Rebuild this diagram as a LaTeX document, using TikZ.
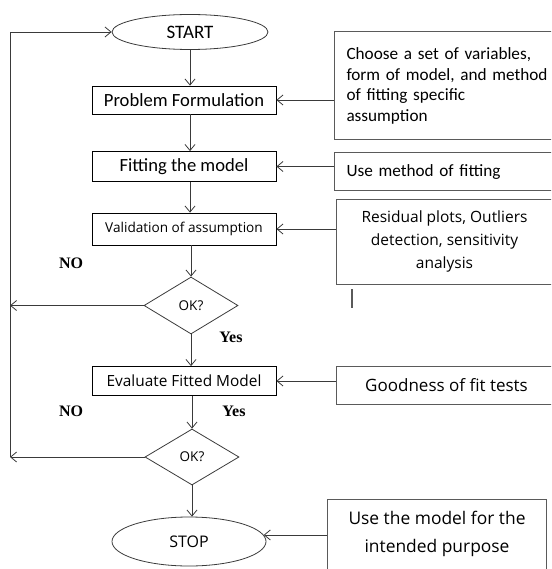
\documentclass[tikz,border=0pt]{standalone}
\usepackage{fontspec}
\usepackage{tikz}
\usetikzlibrary{arrows.meta, positioning, shapes.geometric, calc}
\newfontfamily\calibfont{Carlito}
\newfontfamily\segfont{Open Sans}
\newfontfamily\timesfont{Liberation Serif}
\definecolor{flowline}{HTML}{3A3A3A}
\definecolor{noteline}{HTML}{5A5A5A}

\begin{document}
\begin{tikzpicture}[x=1pt, y=-1pt,
    term/.style={ellipse, draw=flowline, line width=0.8pt, inner sep=0pt},
    stepbox/.style={rectangle, draw=black, line width=0.8pt, inner sep=0pt,
                    minimum width=184, align=center},
    decide/.style={diamond, draw=flowline, line width=0.8pt, inner sep=0pt,
                   minimum width=94, minimum height=57,
                   font=\segfont\fontsize{13.5}{15}\selectfont},
    note/.style={rectangle, draw=noteline, line width=1pt, inner xsep=12pt},
    answer/.style={font=\timesfont\bfseries\fontsize{16}{18}\selectfont},
    flow/.style={-{Straight Barb[length=6pt, width=10pt]}, draw=flowline,
                 line width=0.8pt}
  ]
    \useasboundingbox (0,0) rectangle (551,569);
    \clip (0,0) rectangle (551,569);

    % Main column
    \node[term, minimum width=156, minimum height=35,
          font=\calibfont\fontsize{19}{22}\selectfont] (start) at (190, 32) {START};
    \node[stepbox, minimum height=28,
          font=\calibfont\fontsize{18.6}{22}\selectfont] (prob) at (184, 100)
      {Problem Formulation};
    \node[stepbox, minimum height=30,
          font=\calibfont\fontsize{18.6}{22}\selectfont] (fit) at (184, 166.5)
      {Fitting the model};
    \node[stepbox, minimum height=32,
          font=\segfont\fontsize{13.6}{16}\selectfont] (valid) at (184, 229)
      {Validation of assumption};
    % First check
    \node[decide] (okOne) at (191, 305.5) {OK?};
    \node[stepbox, minimum height=29,
          font=\segfont\fontsize{15.4}{18}\selectfont] (eval) at (184, 381)
      {Evaluate Fitted Model};
    % Second check
    \node[decide, minimum height=56] (okTwo) at (192, 457) {OK?};
    \node[term, minimum width=154, minimum height=49,
          font=\segfont\fontsize{16}{19}\selectfont] (stop) at (189, 541.5) {STOP};

    % Answers
    \node[answer] (noOne)  at (71, 263)  {NO};
    \node[answer] (yesOne) at (231, 337) {Yes};
    \node[answer] (noTwo)  at (71, 411)  {NO};
    \node[answer] (yesTwo) at (234, 411) {Yes};

    % Notes (right)
    \node[note, anchor=west, minimum height=108, text width=214, align=left,
          font=\calibfont\fontsize{17.2}{20.5}\selectfont] (noteChoose) at (334, 86)
      {Choose a set of variables,\\form of model, and method\\of fitting specific\\assumption};
    \node[note, anchor=west, minimum height=38, text width=214, align=left,
          font=\calibfont\fontsize{17.2}{20.5}\selectfont] (noteFit) at (334, 172)
      {Use method of fitting};
    \node[note, anchor=west, minimum width=217, minimum height=85, align=center,
          font=\segfont\fontsize{15.5}{23}\selectfont] (noteResid) at (335.5, 241.5)
      {Residual plots, Outliers\\detection, sensitivity\\analysis};
    \node[note, anchor=west, minimum width=221, minimum height=38,
          font=\segfont\fontsize{17}{20}\selectfont] (noteGood) at (335.5, 385)
      {Goodness of fit tests};
    \node[note, anchor=north west, minimum width=219, inner ysep=12pt,
          text depth=60pt, align=center,
          font=\segfont\fontsize{17.4}{28}\selectfont] (noteUse) at (327, 499)
      {Use the model for the\\intended purpose};

    % Stray mark under the residual note
    \draw[noteline, line width=1.2pt] (352, 289) -- (352, 308);

    % Loop back line (left)
    \coordinate (loopTop) at (10, 32);

    % Main flow
    \draw[flow] (start) -- (start |- prob.north);
    \draw[flow] (prob.south -| start) -- (fit.north -| start);
    \draw[flow] (fit.south -| start) -- (valid.north -| start);
    \draw[flow] (valid.south -| okOne) -- (okOne.north);
    \draw[flow] (okOne.south) -- (okOne |- eval.north);
    \draw[flow] (eval.south -| okTwo) -- (okTwo.north);
    \draw[flow] (okTwo.south) -- (okTwo |- stop.north);

    % NO branches
    \draw[flow] (okOne.west) -- (okOne.west -| loopTop);
    \draw[flow] (okTwo.west) -- (okTwo.west -| loopTop);
    \draw[flow] (okTwo.west -| loopTop) -- (loopTop) -- (start.west);

    % Notes to steps
    \draw[flow] (noteChoose.west |- prob) -- (prob.east);
    \draw[flow] (noteFit.west |- fit) -- (fit.east);
    \draw[flow] (noteResid.west |- valid) -- (valid.east);
    \draw[flow] (noteGood.west |- eval) -- (eval.east);
    \draw[flow] (noteUse.west |- stop.5) -- (stop.5);
\end{tikzpicture}
\end{document}
